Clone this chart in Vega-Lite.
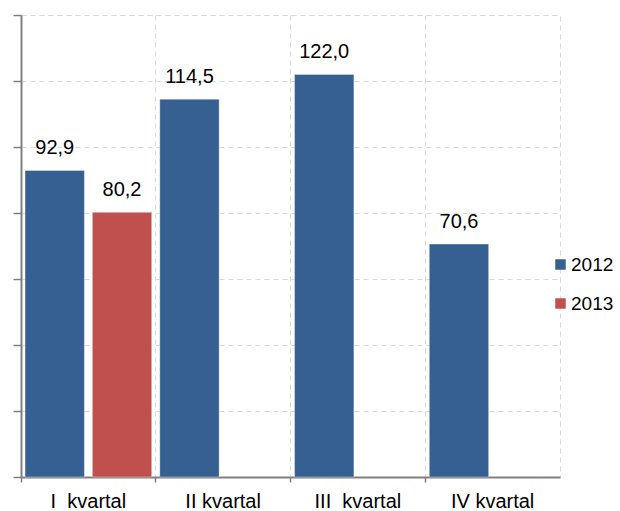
{
  "$schema": "https://vega.github.io/schema/vega-lite/v6.json",
  "autosize": "none",
  "padding": {"left": 21, "top": 15, "right": 60, "bottom": 34},
  "width": 539,
  "height": 462,
  "config": {
    "locale": {"number": {"decimal": ",", "thousands": " ", "grouping": [3], "currency": ["", ""]}},
    "font": "Liberation Sans",
    "view": {"stroke": "#d9d9d9", "strokeDash": [5, 4], "strokeWidth": 1}
  },
  "data": {
    "values": [
      {"kvartal": "I\u00a0 kvartal", "year": "2012", "value": 92.9},
      {"kvartal": "I\u00a0 kvartal", "year": "2013", "value": 80.2},
      {"kvartal": "II kvartal", "year": "2012", "value": 114.5},
      {"kvartal": "III\u00a0 kvartal", "year": "2012", "value": 122.0},
      {"kvartal": "IV kvartal", "year": "2012", "value": 70.6}
    ]
  },
  "encoding": {
    "x": {
      "field": "kvartal", "type": "nominal", "sort": null,
      "scale": {"paddingInner": 0, "paddingOuter": 0},
      "axis": {
        "title": null, "labelAngle": 0, "labelFontSize": 20, "labelColor": "#000000",
        "labelPadding": 9, "tickSize": 5, "bandPosition": 0, "tickColor": "#808080",
        "tickWidth": 1.5, "domainColor": "#808080", "domainWidth": 2,
        "grid": true, "gridColor": "#d9d9d9", "gridDash": [5, 4], "gridWidth": 1
      }
    },
    "xOffset": {
      "field": "year", "type": "nominal",
      "scale": {"domain": ["2012", "2013"], "paddingInner": 0.118, "paddingOuter": 0.06}
    },
    "y": {
      "field": "value", "type": "quantitative",
      "scale": {"domain": [0, 140]},
      "axis": {
        "title": null, "labels": false, "values": [0, 20, 40, 60, 80, 100, 120, 140],
        "tickSize": 8, "tickColor": "#808080", "tickWidth": 1.5,
        "domainColor": "#808080", "domainWidth": 2,
        "grid": true, "gridColor": "#d9d9d9", "gridDash": [5, 4], "gridWidth": 1
      }
    }
  },
  "layer": [
    {
      "mark": {"type": "bar", "stroke": "#ffffff", "strokeWidth": 0.6, "strokeOpacity": 0.6},
      "encoding": {
        "color": {
          "field": "year", "type": "nominal",
          "scale": {"domain": ["2012", "2013"], "range": ["#366092", "#C0504D"]},
          "legend": {
            "title": null, "orient": "none", "legendX": 530, "legendY": 240, "padding": 0,
            "symbolType": "square", "symbolSize": 110, "symbolStrokeWidth": 0,
            "labelFontSize": 19, "labelColor": "#000000", "labelOffset": 1, "rowPadding": 19
          }
        }
      }
    },
    {
      "mark": {"type": "text", "fontSize": 20, "color": "#000000", "baseline": "alphabetic", "dy": -16},
      "encoding": {
        "text": {"field": "value", "type": "quantitative", "format": ".1f"}
      }
    }
  ]
}
